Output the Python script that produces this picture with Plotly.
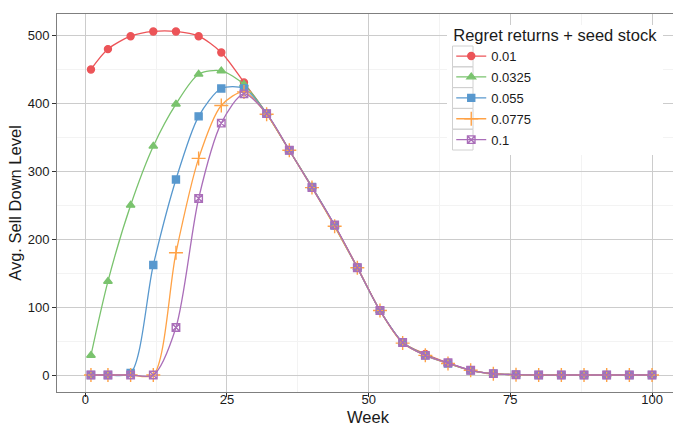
import plotly.graph_objects as go

weeks = [1, 4, 8, 12, 16, 20, 24, 28, 32, 36, 40, 44, 48, 52, 56, 60, 64, 68, 72, 76, 80, 84, 88, 92, 96, 100]

s_001 = [450, 480, 499, 506, 506, 499, 475, 431, 385, 331, 277, 220, 159, 95, 48, 31, 18, 7, 2, 0.5, 0, 0, 0, 0, 0, 0]
s_00325 = [29, 138, 250, 337, 399, 443, 448, 428, 385, 331, 277, 219, 158, 95, 48, 30, 17, 7, 2, 0.5, 0, 0, 0, 0, 0, 0]
s_0055 = [0, 0, 3, 162, 288, 381, 422, 422, 385, 331, 277, 220, 158, 95, 48, 29, 17, 7, 2, 0.5, 0, 0, 0, 0, 0, 0]
s_00775 = [0, 0, 0, 0, 180, 319, 397, 417, 384, 331, 276, 219, 158, 95, 47, 29, 17, 7, 2, 0.5, 0, 0, 0, 0, 0, 0]
s_01 = [0, 0, 0, 0, 70, 260, 371, 414, 385, 331, 276, 221, 158, 95, 48, 29, 18, 7, 2, 0.5, 0, 0, 0, 0, 0, 0]

labels = ["0.01", "0.0325", "0.055", "0.0775", "0.1"]
series = [s_001, s_00325, s_0055, s_00775, s_01]
colors = ["rgb(236,84,88)", "rgb(122,195,110)", "rgb(88,152,206)", "rgb(255,162,70)", "rgb(170,110,185)"]
symbols = ["circle", "triangle-up", "square", "cross-thin-open", "square-x-open"]
msizes = [7, 7.5, 7, 10, 7.5]

FONT = "Liberation Sans, Arial, sans-serif"

# plot area geometry (pixels) for legend decoration
L, R, T, B = 57, 673, 14, 392


def px_x(p):
    return (p - L) / (R - L)


def px_y(p):
    return (B - p) / (B - T)


fig = go.Figure()
for i, (lab, ys) in enumerate(zip(labels, series)):
    fig.add_trace(go.Scatter(
        x=weeks, y=ys, name=lab, mode="lines+markers",
        legendgroup=lab,
        line=dict(color=colors[i], width=1.3, shape="spline", smoothing=0.8),
        marker=dict(symbol=symbols[i], size=msizes[i], color=colors[i],
                    line=dict(color=colors[i], width=1.4)),
    ))

shapes = [dict(type="rect", xref="paper", yref="paper", layer="above",
               x0=px_x(447), x1=px_x(663), y0=px_y(155), y1=px_y(25),
               fillcolor="white", line=dict(width=0))]
for k in range(len(labels)):
    top = 46 + k * 20.8
    shapes.append(dict(type="rect", xref="paper", yref="paper", layer="above",
                       x0=px_x(452.5), x1=px_x(473), y0=px_y(top + 20.8), y1=px_y(top),
                       fillcolor="rgba(0,0,0,0)", line=dict(color="#d0d0d0", width=1)))

fig.update_layout(
    width=673, height=425,
    margin=dict(l=57, r=0, t=14, b=33),
    paper_bgcolor="white", plot_bgcolor="white",
    font=dict(family=FONT, color="#1a1a1a", size=13),
    showlegend=True,
    shapes=shapes,
    annotations=[dict(text="Week", xref="paper", yref="paper",
                      x=px_x(368.5), y=px_y(406), xanchor="center", yanchor="top",
                      showarrow=False, font=dict(size=16.5, family=FONT, color="#1a1a1a"))],
    legend=dict(
        title=dict(text="Regret returns + seed stock", font=dict(size=16.5, family=FONT)),
        x=0.64, y=0.985, xanchor="left", yanchor="top",
        bgcolor="rgba(0,0,0,0)", borderwidth=0,
        font=dict(size=13, family=FONT),
        tracegroupgap=1,
        itemwidth=30,
    ),
    xaxis=dict(
        range=[-4.99, 103.7], tickvals=[0, 25, 50, 75, 100],
        showgrid=True, gridcolor="#cccccc", gridwidth=1.2,
        minor=dict(tickvals=[12.5, 37.5, 62.5, 87.5], showgrid=True, gridcolor="#f3f3f3", gridwidth=1, ticks=""),
        ticks="outside", ticklen=4, tickcolor="#333333", tickwidth=1,
        showline=True, linecolor="#7f7f7f", linewidth=1, mirror=True,
        zeroline=False, automargin=False,
        ticklabelstandoff=-9,
        tickfont=dict(size=13, color="#1a1a1a"),
    ),
    yaxis=dict(
        range=[-25.0, 531.7], tickvals=[0, 100, 200, 300, 400, 500],
        showgrid=True, gridcolor="#cccccc", gridwidth=1.2,
        minor=dict(tickvals=[50, 150, 250, 350, 450], showgrid=True, gridcolor="#f3f3f3", gridwidth=1, ticks=""),
        ticks="outside", ticklen=4, tickcolor="#333333", tickwidth=1,
        showline=True, linecolor="#7f7f7f", linewidth=1, mirror=True,
        zeroline=False, automargin=False,
        tickfont=dict(size=13, color="#1a1a1a"),
        title=dict(text="Avg. Sell Down Level", font=dict(size=16.5), standoff=1),
    ),
)

fig.write_html("out.html")
